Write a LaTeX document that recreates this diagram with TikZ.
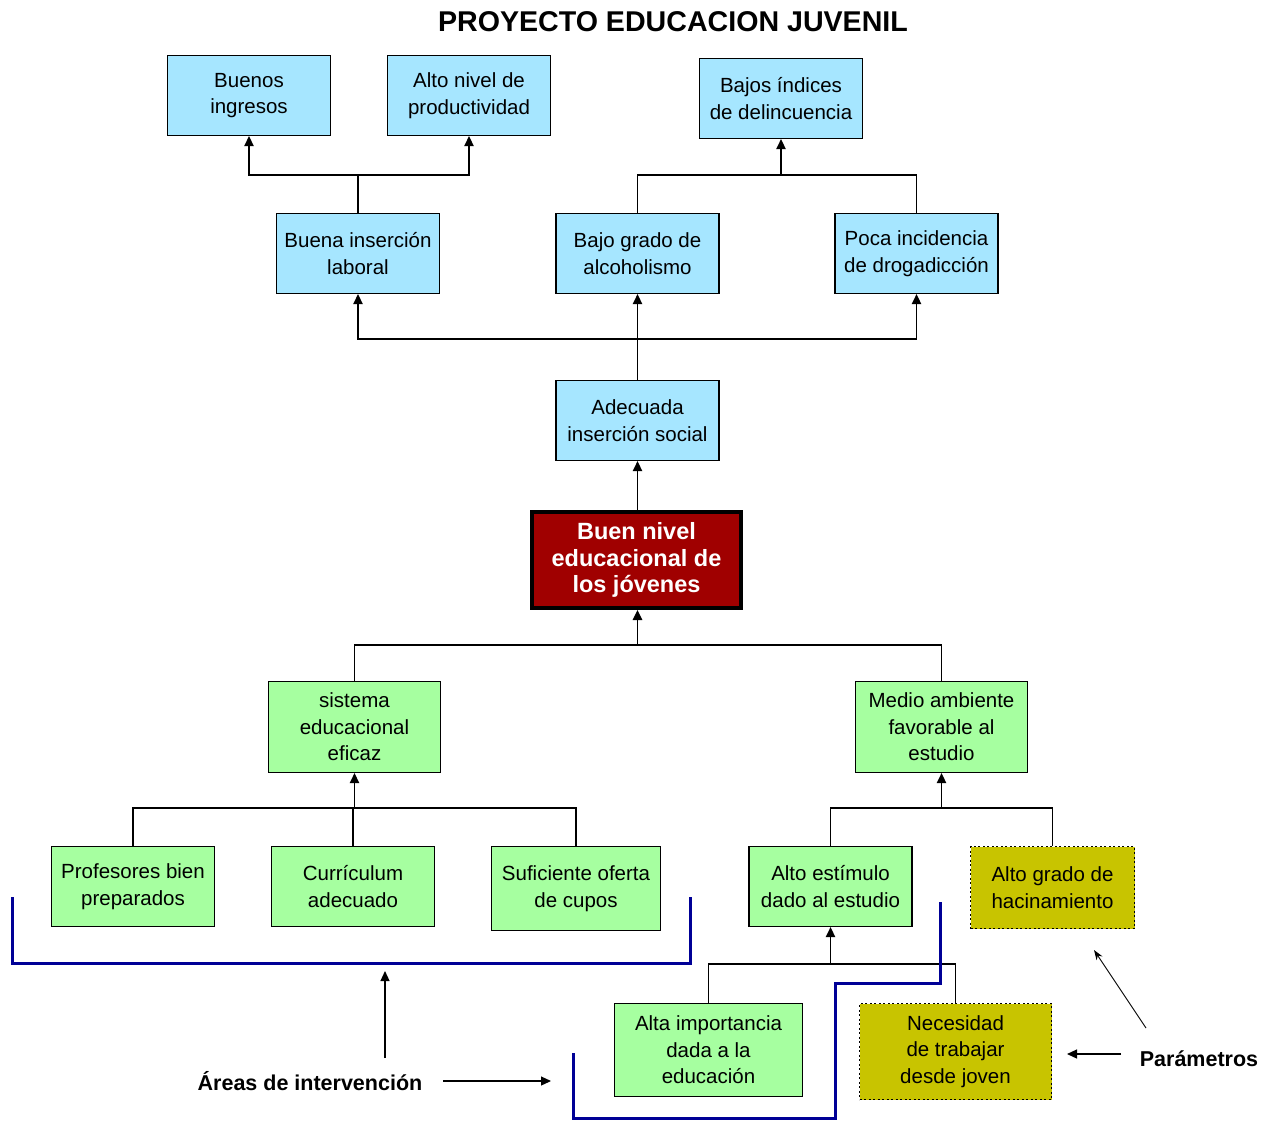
\documentclass[tikz,border=0pt]{standalone}
\usepackage{fontspec}
\setmainfont{Liberation Sans}
\usetikzlibrary{arrows.meta}
\definecolor{lblue}{RGB}{166,230,255}
\definecolor{lgreen}{RGB}{166,255,160}
\definecolor{myolive}{RGB}{200,196,0}
\definecolor{dred}{RGB}{160,0,0}
\definecolor{navyb}{RGB}{0,0,150}
\tikzset{
  box/.style={draw=black, line width=1.3pt, inner sep=0pt, align=center,
    font=\fontsize{20.5}{26.5}\selectfont, minimum width=163pt, minimum height=80pt},
  bbox/.style={box, fill=lblue},
  gbox/.style={box, fill=lgreen},
  obox/.style={box, fill=myolive, dash pattern=on 2pt off 2.5pt},
  con/.style={line width=1.3pt},
  arr/.style={con, -{Triangle[width=9.5pt,length=10pt]}},
  bracket/.style={draw=navyb, line width=3pt},
  lbl/.style={font=\fontsize{21.5}{25}\selectfont\bfseries, inner sep=0pt},
  note/.style={line width=1.2pt, -{Triangle[width=9pt,length=10pt]}},
  thinnote/.style={line width=0.9pt, -{Stealth[width=7pt,length=10pt]}}
}
\begin{document}
\begin{tikzpicture}[x=1pt,y=-1pt]
\useasboundingbox (0,0) rectangle (1272,1120);
% title
\node[font=\fontsize{28.6}{32}\selectfont\bfseries, inner sep=0pt] (title) at (673,22) {PROYECTO EDUCACION JUVENIL};
% top row
\node[bbox] (ingresos) at (249,95.5) {Buenos\\ingresos};
\node[bbox] (productividad) at (469,95.5) {Alto nivel de\\productividad};
\node[bbox] (delincuencia) at (781,98.5) {Bajos índices\\de delincuencia};
% second row
\node[bbox] (buena) at (358,253.5) {Buena inserción\\laboral};
\node[bbox] (bajo) at (637.5,253.5) {Bajo grado de\\alcoholismo};
\node[bbox] (poca) at (916.5,253.5) {Poca incidencia\\de drogadicción};
% third
\node[bbox] (adecuada) at (637.5,420.5) {Adecuada\\inserción social};
% central
\node[draw=black, fill=dred, line width=4pt, text=white, align=center, inner sep=0pt,
  minimum width=209pt, minimum height=96pt,
  font=\fontsize{23.5}{26.5}\selectfont\bfseries] (buen) at (636.5,560) {Buen nivel\\educacional de\\los jóvenes};
% causes
\node[gbox, minimum width=172pt, minimum height=91pt] (sistema) at (354.5,727) {sistema\\educacional\\eficaz};
\node[gbox, minimum width=172pt, minimum height=91pt] (medio) at (941.5,727) {Medio ambiente\\favorable al\\estudio};
\node[gbox] (profesores) at (133,886.5) {Profesores bien\\preparados};
\node[gbox] (curriculum) at (353,886.5) {Currículum\\adecuado};
\node[gbox, minimum width=169pt, minimum height=84pt] (cupos) at (576,888.5) {Suficiente oferta\\de cupos};
\node[gbox] (estimulo) at (830.5,886.5) {Alto estímulo\\dado al estudio};
\node[obox, minimum width=164pt, minimum height=82pt] (hacinamiento) at (1052.5,887.5) {Alto grado de\\hacinamiento};
\node[gbox, minimum width=188pt, minimum height=93pt] (importancia) at (708.5,1050) {Alta importancia\\dada a la\\educación};
\node[obox, minimum width=192pt, minimum height=96pt] (necesidad) at (955.5,1051.5) {Necesidad\\de trabajar\\desde joven};
% junction levels
\coordinate (y175) at (0,175);
\coordinate (y339) at (0,339);
\coordinate (y645) at (0,645);
\coordinate (y808) at (0,808);
\coordinate (y964) at (0,964);
% connectors top
\draw[con] (buena.north) -- (buena.north |- y175);
\draw[arr] (buena.north |- y175) -| (ingresos.south);
\draw[arr] (buena.north |- y175) -| (productividad.south);
\draw[con] (bajo.north) |- (poca.north |- y175) -- (poca.north);
\draw[arr] (delincuencia.south |- y175) -- (delincuencia.south);
\draw[con] (adecuada.north) -- (adecuada.north |- y339);
\draw[arr] (adecuada.north |- y339) -| (buena.south);
\draw[arr] (adecuada.north |- y339) -| (poca.south);
\draw[arr] (adecuada.north |- y339) -- (bajo.south);
\draw[arr] (adecuada.south |- buen.north) -- (adecuada.south);
% connectors lower
\draw[con] (sistema.north) |- (medio.north |- y645) -- (medio.north);
\draw[arr] (adecuada.south |- y645) -- (adecuada.south |- buen.south);
\draw[con] (profesores.north) |- (cupos.north |- y808) -- (cupos.north);
\draw[con] (curriculum.north) -- (curriculum.north |- y808);
\draw[arr] (sistema.south |- y808) -- (sistema.south);
\draw[con] (estimulo.north) |- (hacinamiento.north |- y808) -- (hacinamiento.north);
\draw[arr] (medio.south |- y808) -- (medio.south);
\draw[con] (importancia.north) |- (necesidad.north |- y964) -- (necesidad.north);
\draw[arr] (estimulo.south |- y964) -- (estimulo.south);
% blue brackets
\draw[bracket] (12,897) -- (12,963) -- (690,963) -- (690,897);
\draw[bracket] (573,1053) -- (573,1118) -- (835,1118) -- (835,983) -- (940,983) -- (940,902);
% annotations
\node[lbl] (areas) at (310,1081) {Áreas de intervención};
\node[lbl] (param) at (1199,1059) {Parámetros};
\coordinate (a1s) at (443,1081);
\coordinate (a1e) at (551,1081);
\coordinate (a2s) at (385,1058);
\coordinate (a2e) at (385,971);
\coordinate (p1s) at (1121,1054);
\coordinate (p1e) at (1067,1054);
\coordinate (p2s) at (1146,1028);
\coordinate (p2e) at (1094,950);
\draw[note] (a1s) -- (a1e);
\draw[note] (a2s) -- (a2e);
\draw[note] (p1s) -- (p1e);
\draw[thinnote] (p2s) -- (p2e);
\end{tikzpicture}
\end{document}
